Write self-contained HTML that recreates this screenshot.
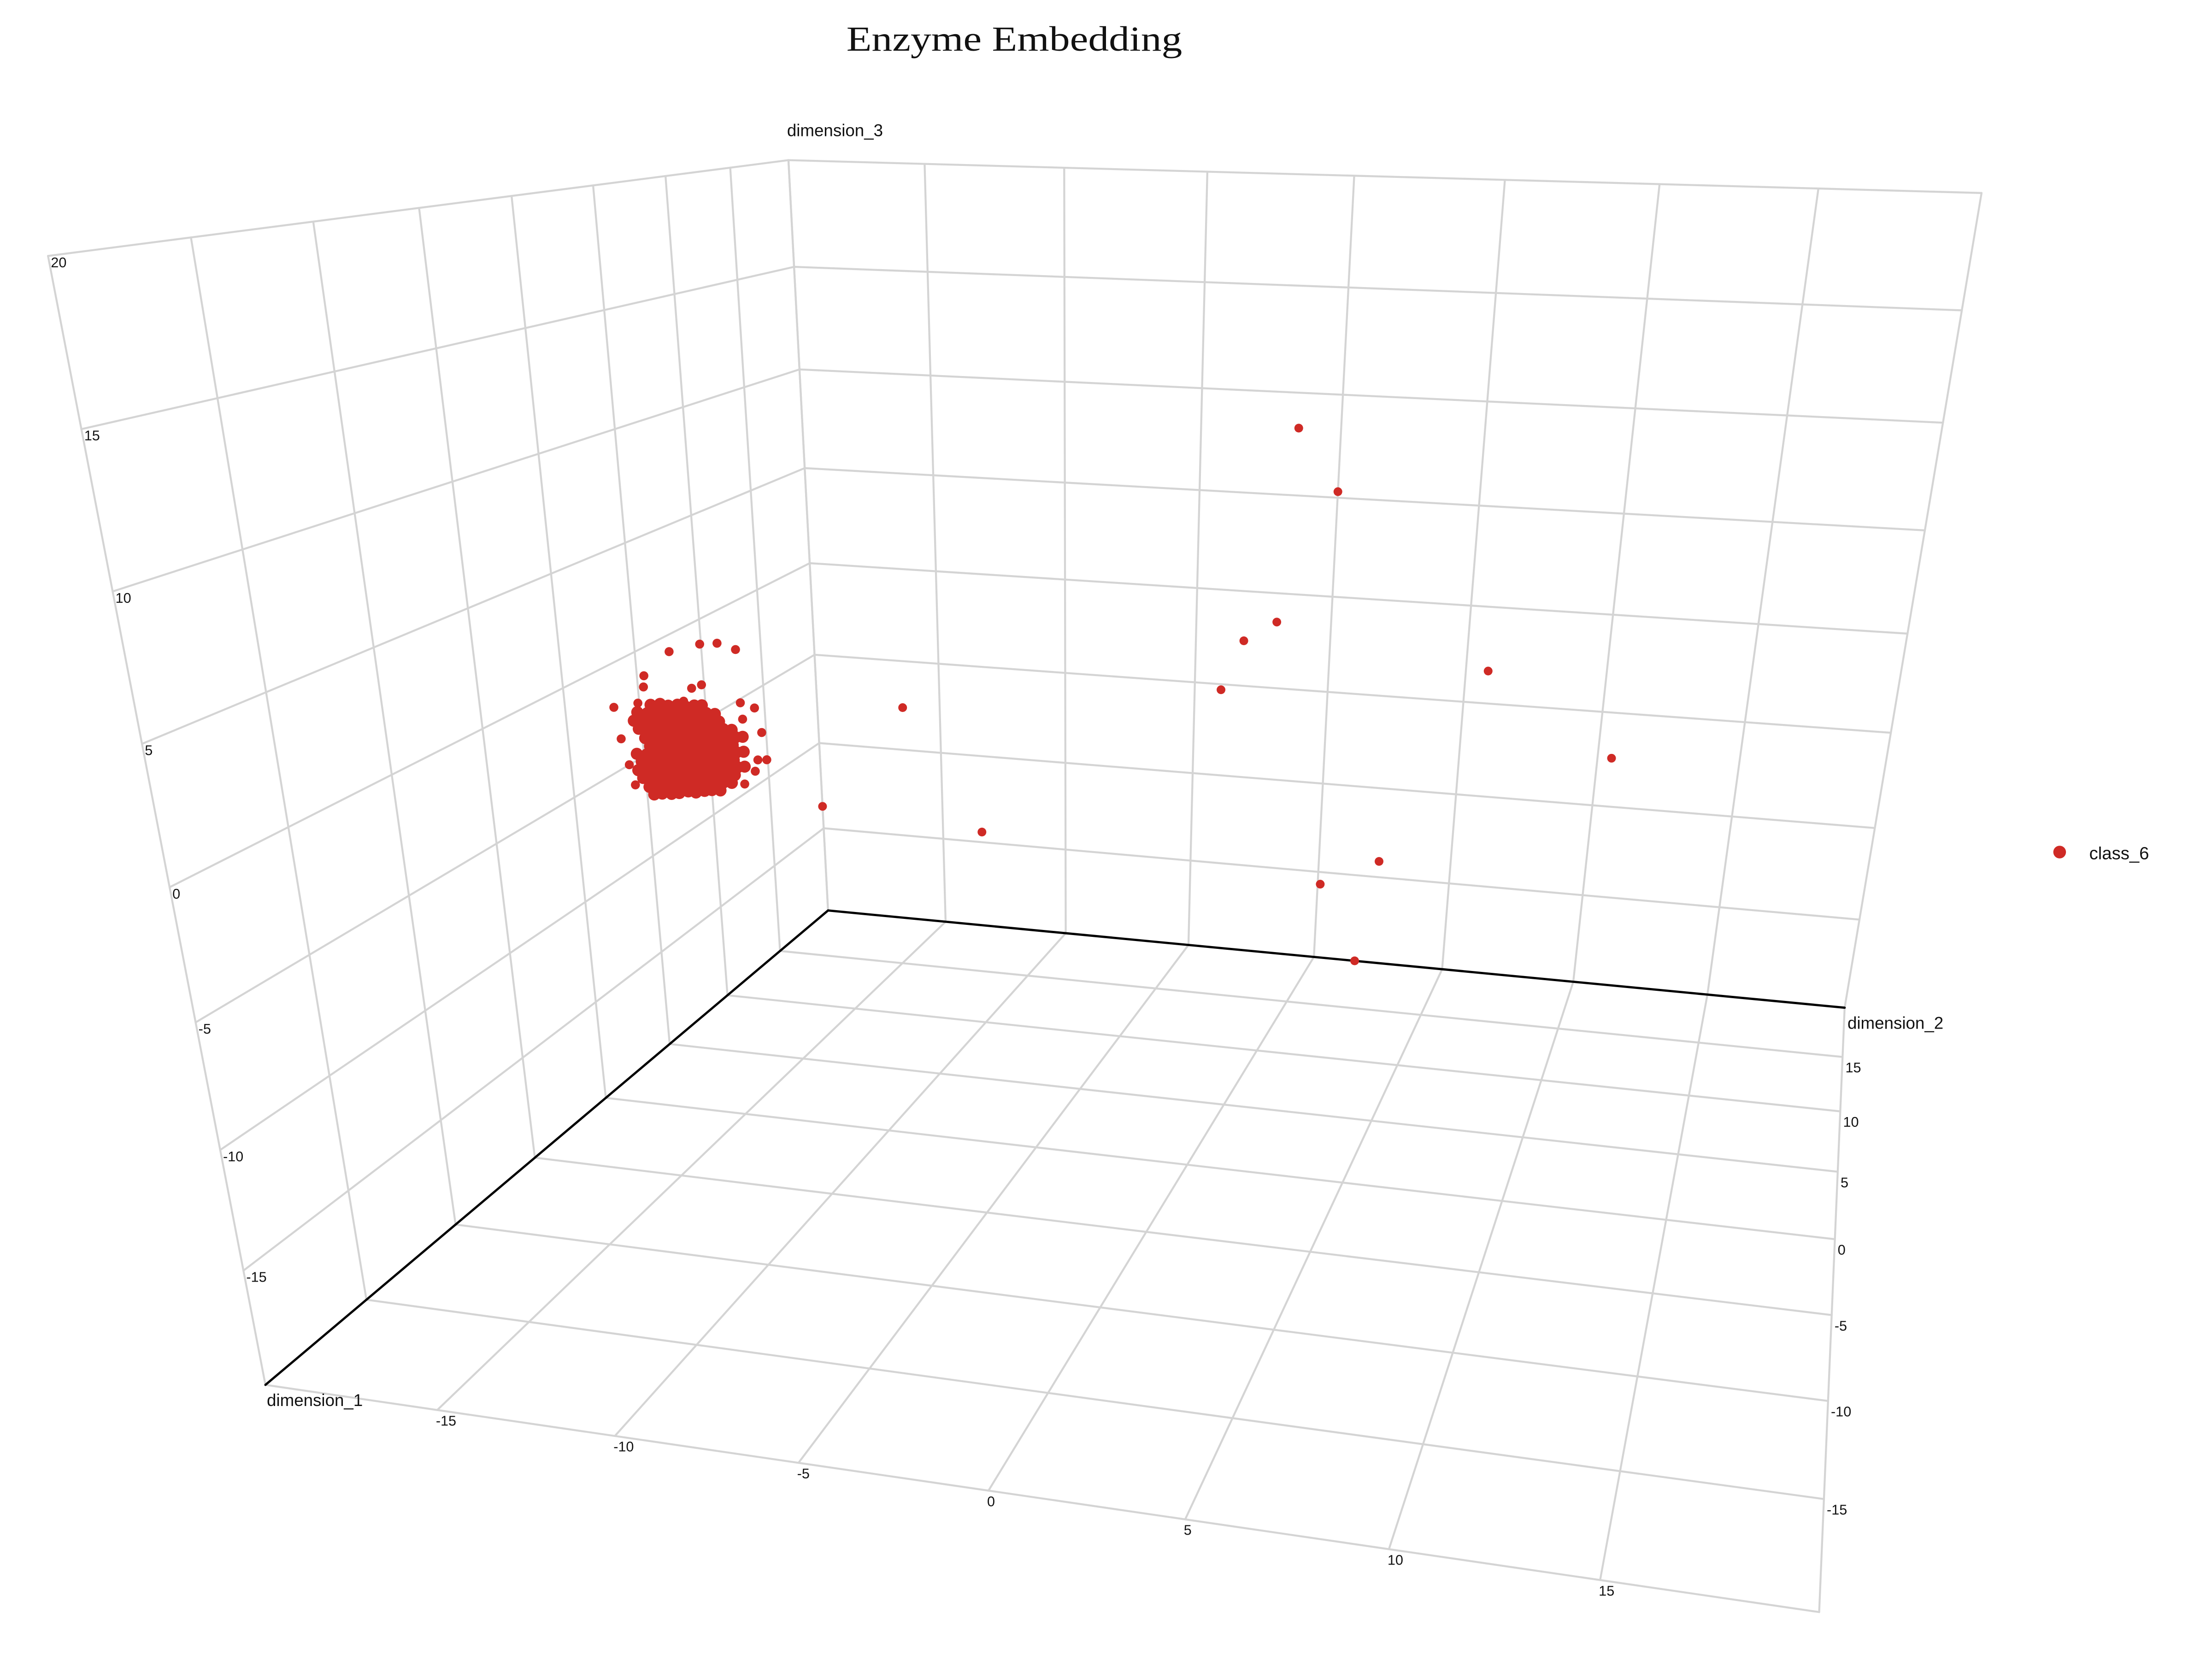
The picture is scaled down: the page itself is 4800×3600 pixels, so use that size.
<!DOCTYPE html>
<html>
<head>
<meta charset="utf-8">
<style>
  html, body { margin: 0; padding: 0; background: #ffffff; }
  #chart { display: block; }
  text { font-family: "Liberation Sans", "DejaVu Sans", sans-serif; fill: #111; }
</style>
</head>
<body>
<svg id="chart" width="4800" height="3600" viewBox="0 0 1568 1176" preserveAspectRatio="none" xmlns="http://www.w3.org/2000/svg">
  <rect x="0" y="0" width="1568" height="1176" fill="#ffffff"/>
  <g id="grid"></g>
  <g id="axes"></g>
  <g id="ticks"></g>
  <g id="points"></g>
  <text x="719" y="36" text-anchor="middle" font-size="25" textLength="238" lengthAdjust="spacingAndGlyphs" style="font-family:'Liberation Serif','DejaVu Serif',serif">Enzyme Embedding</text>
  <g>
    <circle cx="1460" cy="604" r="4.5" fill="#cf2a25"/>
    <text x="1481" y="609" font-size="12.5">class_6</text>
  </g>
</svg>
<script>
// ---- data ----
const gridValues = [-20, -15, -10, -5, 0, 5, 10, 15, 20];
const xTickLabels = [-15, -10, -5, 0, 5, 10, 15];
const yTickLabels = [-15, -10, -5, 0, 5, 10, 15];
const zTickLabels = [-15, -10, -5, 0, 5, 10, 15, 20];

// sparse outliers (dimension_1, dimension_2, dimension_3)
const outlierX = [-1.5, 0, -2, -3.2, -4, 5.8, 10.5, -16.5, -13.4, -20, 2.3, 0.1, 1.6];
const outlierY = [20, 20, 20, 20, 20, 20, 20, 20, 20, 20, 20, 20, 20];
const outlierZ = [8.3, 5.3, -1.5, -2.6, -5.3, -3.3, -7.4, -7.6, -14.4, -13.7, -14.1, -15.7, -20];

// points scattered around the dense cluster
const haloX = [-20, -20, -20, -20, -20, -20, -20, -20, -20, -20, -20, -20, -20, -20, -20, -20, -20, -20, -20, -20, -20, -20];
const haloY = [7.5, 9.9, 11.3, 12.8, 5.5, 5.4, 9.0, 9.8, 4.9, 8.3, 12.9, 14.1, 3.2, 13.0, 14.6, 3.5, 14.1, 14.9, 13.8, 3.9, 4.2, 12.8];
const haloZ = [-0.8, -1.2, -1.6, -2.4, -1.3, -1.8, -3.1, -3.2, -2.4, -3.5, -5.2, -5.9, -2.0, -6.1, -7.4, -3.6, -8.7, -9.0, -9.2, -5.0, -6.1, -9.5];

// dense cluster, listed by rows (dimension_1 per row; dimension_2 / dimension_3 per point)
const clusterRowX = [-20, -20, -20, -20, -20, -20, -20, -20, -20, -20, -20, -20];
const clusterY = [
  [5.8, 6.5, 7.1, 7.8, 8.4, 9.1, 9.7],
  [4.8, 5.5, 6.1, 6.8, 7.4, 8.1, 8.7, 9.4, 10.0, 10.7],
  [4.5, 5.2, 5.8, 6.5, 7.1, 7.8, 8.4, 9.1, 9.7, 10.4, 11.0],
  [4.8, 5.5, 6.1, 6.8, 7.4, 8.1, 8.7, 9.4, 10.0, 10.7, 11.3, 12.0],
  [5.2, 5.8, 6.5, 7.1, 7.8, 8.4, 9.1, 9.7, 10.4, 11.0, 11.7, 12.3, 12.9],
  [5.5, 6.1, 6.8, 7.4, 8.1, 8.7, 9.4, 10.0, 10.7, 11.3, 12.0],
  [4.5, 5.2, 5.8, 6.5, 7.1, 7.8, 8.4, 9.1, 9.7, 10.4, 11.0, 11.7, 12.3, 12.9],
  [4.8, 5.5, 6.1, 6.8, 7.4, 8.1, 8.7, 9.4, 10.0, 10.7, 11.3, 12.0],
  [4.5, 5.2, 5.8, 6.5, 7.1, 7.8, 8.4, 9.1, 9.7, 10.4, 11.0, 11.7, 12.3, 12.9],
  [4.8, 5.5, 6.1, 6.8, 7.4, 8.1, 8.7, 9.4, 10.0, 10.7, 11.3, 12.0],
  [5.2, 5.8, 6.5, 7.1, 7.8, 8.4, 9.1, 9.7, 10.4, 11.0, 11.7],
  [5.5, 6.1, 6.8, 7.4, 8.1, 8.7, 9.4, 10.0, 10.7]
];
const clusterZ = [
  [-2.8, -3.0, -3.3, -3.5, -3.8, -4.0, -4.2],
  [-2.8, -3.1, -3.3, -3.6, -3.8, -4.0, -4.3, -4.5, -4.7, -5.0],
  [-3.1, -3.4, -3.6, -3.8, -4.1, -4.3, -4.6, -4.8, -5.0, -5.3, -5.5],
  [-3.6, -3.9, -4.1, -4.4, -4.6, -4.8, -5.1, -5.3, -5.5, -5.8, -6.0, -6.3],
  [-4.2, -4.4, -4.6, -4.9, -5.1, -5.4, -5.6, -5.8, -6.1, -6.3, -6.6, -6.8, -7.0],
  [-4.7, -4.9, -5.2, -5.4, -5.6, -5.9, -6.1, -6.3, -6.6, -6.8, -7.1],
  [-4.7, -5.0, -5.2, -5.4, -5.7, -5.9, -6.2, -6.4, -6.6, -6.9, -7.1, -7.4, -7.6, -7.8],
  [-5.2, -5.5, -5.7, -6.0, -6.2, -6.4, -6.7, -6.9, -7.1, -7.4, -7.6, -7.9],
  [-5.5, -5.8, -6.0, -6.2, -6.5, -6.7, -7.0, -7.2, -7.4, -7.7, -7.9, -8.2, -8.4, -8.6],
  [-6.0, -6.3, -6.5, -6.8, -7.0, -7.2, -7.5, -7.7, -7.9, -8.2, -8.4, -8.7],
  [-6.6, -6.8, -7.0, -7.3, -7.5, -7.8, -8.0, -8.2, -8.5, -8.7, -9.0],
  [-7.1, -7.3, -7.6, -7.8, -8.0, -8.3, -8.5, -8.7, -9.0]
];

// ---- camera (scene corners -> screen), fitted as a projective map ----
const cameraAnchors = [
  [-20, 20, -20, 588, 646],
  [-20, -20, -20, 187, 981],
  [20, 20, -20, 1307, 714],
  [20, -20, -20, 1290, 1143],
  [-20, 20, 20, 558, 113],
  [-20, -20, 20, 35, 182],
  [20, 20, 20, 1405, 137]
];

function solveLinear(M, b) {
  const n = b.length;
  const A = M.map((r, i) => r.concat([b[i]]));
  for (let c = 0; c < n; c++) {
    let p = c;
    for (let r = c + 1; r < n; r++) if (Math.abs(A[r][c]) > Math.abs(A[p][c])) p = r;
    const t = A[c]; A[c] = A[p]; A[p] = t;
    for (let r = 0; r < n; r++) {
      if (r === c) continue;
      const f = A[r][c] / A[c][c];
      for (let k = c; k <= n; k++) A[r][k] -= f * A[c][k];
    }
  }
  return A.map((r, i) => r[n] / r[i]);
}

function fitCamera() {
  const rows = [], rhs = [];
  cameraAnchors.forEach(a => {
    const X = a[0] / 20, Y = a[1] / 20, Z = a[2] / 20, u = a[3], v = a[4];
    rows.push([X, Y, Z, 1, 0, 0, 0, 0, -u * X, -u * Y, -u * Z]); rhs.push(u);
    rows.push([0, 0, 0, 0, X, Y, Z, 1, -v * X, -v * Y, -v * Z]); rhs.push(v);
  });
  const n = 11;
  const N = [], r = [];
  for (let i = 0; i < n; i++) {
    N.push(new Array(n).fill(0)); r.push(0);
    for (let k = 0; k < rows.length; k++) {
      r[i] += rows[k][i] * rhs[k];
      for (let j = 0; j < n; j++) N[i][j] += rows[k][i] * rows[k][j];
    }
  }
  return solveLinear(N, r);
}
const cam = fitCamera();
function proj(x, y, z) {
  const X = x / 20, Y = y / 20, Z = z / 20;
  const w = cam[8] * X + cam[9] * Y + cam[10] * Z + 1;
  return [(cam[0] * X + cam[1] * Y + cam[2] * Z + cam[3]) / w,
          (cam[4] * X + cam[5] * Y + cam[6] * Z + cam[7]) / w];
}

const NS = 'http://www.w3.org/2000/svg';
function line(parent, a, b, color, width, name) {
  const p = proj(a[0], a[1], a[2]), q = proj(b[0], b[1], b[2]);
  const el = document.createElementNS(NS, 'line');
  el.setAttribute('x1', p[0]); el.setAttribute('y1', p[1]);
  el.setAttribute('x2', q[0]); el.setAttribute('y2', q[1]);
  el.setAttribute('stroke', color); el.setAttribute('stroke-width', width);
  el.setAttribute('stroke-linecap', 'round');
  
  
  parent.appendChild(el);
}
function label(parent, pt, dx, dy, str, size, name) {
  const p = proj(pt[0], pt[1], pt[2]);
  const t = document.createElementNS(NS, 'text');
  t.setAttribute('x', p[0] + dx); t.setAttribute('y', p[1] + dy);
  t.setAttribute('font-size', size);
  t.textContent = str;
  
  
  parent.appendChild(t);
}

const grid = document.getElementById('grid');
const GC = '#d4d4d4', GW = 1.4;
gridValues.forEach(v => {
  line(grid, [-20, v, -20], [-20, v, 20], GC, GW, 'left-wall-gridline');
  line(grid, [-20, -20, v], [-20, 20, v], GC, GW, 'left-wall-gridline');
  line(grid, [v, 20, -20], [v, 20, 20], GC, GW, 'back-wall-gridline');
  line(grid, [-20, 20, v], [20, 20, v], GC, GW, 'back-wall-gridline');
  line(grid, [v, 20, -20], [v, -20, -20], GC, GW, 'floor-gridline');
  line(grid, [-20, v, -20], [20, v, -20], GC, GW, 'floor-gridline');
});

const axes = document.getElementById('axes');
line(axes, [-20, 20, -20], [-20, -20, -20], '#000', 1.6, 'dimension-1-axis-line');
line(axes, [-20, 20, -20], [20, 20, -20], '#000', 1.6, 'dimension-2-axis-line');

const ticks = document.getElementById('ticks');
xTickLabels.forEach(v => label(ticks, [v, -20, -20], -1, 11, String(v), 10, 'x-tick-label'));
yTickLabels.forEach(v => label(ticks, [20, v, -20], 2, 11, String(v), 10, 'y-tick-label'));
zTickLabels.forEach(v => label(ticks, [-20, -20, v], 2, 8, String(v), 10, 'z-tick-label'));
label(ticks, [-20, -20, -20], 1, 15, 'dimension_1', 12, 'dimension-1-axis-title');
label(ticks, [20, 20, -20], 2, 15, 'dimension_2', 12, 'dimension-2-axis-title');
label(ticks, [-20, 20, 20], -1, -17, 'dimension_3', 12, 'dimension-3-axis-title');

const pts = document.getElementById('points');
const RED = '#cf2a25';
function dot(x, y, z, r, name) {
  const p = proj(x, y, z);
  const c = document.createElementNS(NS, 'circle');
  c.setAttribute('cx', p[0]); c.setAttribute('cy', p[1]);
  c.setAttribute('r', r); c.setAttribute('fill', RED);
  
  
  pts.appendChild(c);
}
clusterY.forEach((row, i) => {
  row.forEach((y, j) => dot(clusterRowX[i], y, clusterZ[i][j], 4.3, 'cluster-point'));
});
haloY.forEach((y, i) => dot(haloX[i], y, haloZ[i], 3.2, 'cluster-halo-point'));
outlierX.forEach((x, i) => dot(x, outlierY[i], outlierZ[i], 3.1, 'outlier-point'));
</script>
</body>
</html>
